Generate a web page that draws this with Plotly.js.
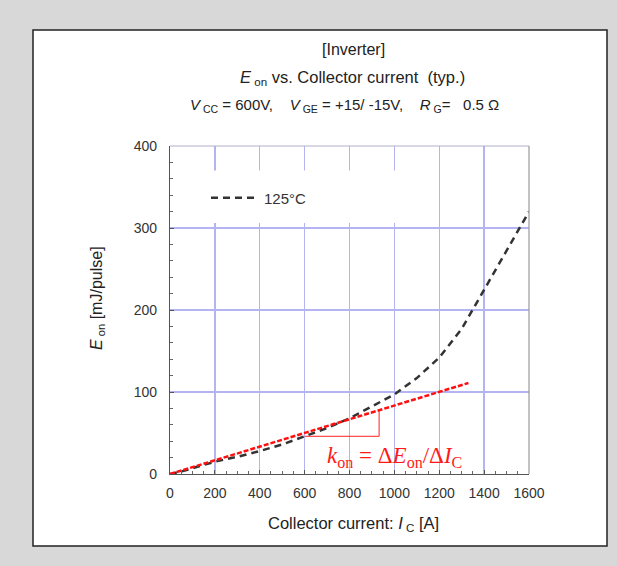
<!DOCTYPE html>
<html>
<head>
<meta charset="utf-8">
<script src="https://cdn.plot.ly/plotly-3.0.1.min.js"></script>
<style>html,body{margin:0;padding:0;background:#d8d8d8;}</style>
</head>
<body>
<div id="chart" style="width:617px;height:566px;"></div>
<script>
// Eon vs collector current at 125°C
const current = [0, 50, 100, 200, 300, 400, 500, 600, 700, 800, 900, 1000, 1100, 1200, 1300, 1400, 1500, 1600];
const eon =     [0, 3, 7, 15, 21, 28, 36, 46, 56, 68, 82, 97, 117, 142, 177, 225, 272, 320];
// tangent line k_on
const tangentX = [0, 1330];
const tangentY = [0, 111];
// slope triangle
const triX = [600, 932, 932];
const triY = [46, 46, 78];
const xTicks = [0, 200, 400, 600, 800, 1000, 1200, 1400, 1600];
const yTicks = [0, 100, 200, 300, 400];

const L = 170, R = 529, T = 146, B = 474;
const W = R - L, H = B - T;
const px = x => (x - L) / W;
const py = y => (B - y) / H;
const font = 'Liberation Sans, Arial, sans-serif';

const traces = [
  {x: current, y: eon, mode: 'lines', name: '125°C',
   line: {color: '#333', width: 2.5, dash: '7px,5px'}, showlegend: true},
  {x: tangentX, y: tangentY, mode: 'lines', showlegend: false,
   line: {color: '#ff1010', width: 2.5, dash: '5px,2px'}},
  {x: triX, y: triY, mode: 'lines', showlegend: false,
   line: {color: '#ff2020', width: 1}}
];

const axisCommon = {
  showgrid: true, gridcolor: '#b4b4f2', gridwidth: 1.3,
  zeroline: false, showline: true, linecolor: '#555', linewidth: 1.2,
  ticks: 'inside', ticklen: 4, tickcolor: '#555', tickwidth: 1,
  tickfont: {family: font, size: 14, color: '#333'}
};

const layout = {
  width: 617, height: 566,
  margin: {l: L, r: 617 - R, t: T, b: 566 - B},
  paper_bgcolor: '#d8d8d8', plot_bgcolor: '#ffffff',
  showlegend: true,
  legend: {x: px(206), y: py(198), xanchor: 'left', yanchor: 'middle',
           bgcolor: 'rgba(0,0,0,0)', font: {family: font, size: 15, color: '#333'},
           itemwidth: 48},
  xaxis: Object.assign({}, axisCommon, {
    range: [0, 1600], tickvals: xTicks, ticktext: xTicks.map(String),
    ticklabelstandoff: 6,
    minor: {dtick: 50, ticks: 'inside', ticklen: 3, tickcolor: '#666', showgrid: false}
  }),
  yaxis: Object.assign({}, axisCommon, {
    range: [0, 400], tickvals: yTicks, ticktext: yTicks.map(String),
    ticklabelstandoff: 9,
    minor: {dtick: 20, ticks: 'inside', ticklen: 3, tickcolor: '#666', showgrid: false}
  }),
  shapes: [
    {type: 'rect', xref: 'paper', yref: 'paper', layer: 'below',
     x0: px(33), x1: px(607), y0: py(30), y1: py(546),
     fillcolor: '#ffffff', line: {color: '#222', width: 1.5}},
    {type: 'rect', xref: 'x', yref: 'y', layer: 'between',
     x0: 20, x1: 1120, y0: 306, y1: 370,
     fillcolor: '#ffffff', line: {width: 0}},
    {type: 'line', xref: 'paper', yref: 'paper', layer: 'above',
     x0: 0, x1: 1, y0: 1, y1: 1, line: {color: '#b0b0cc', width: 1.2}},
    {type: 'line', xref: 'paper', yref: 'paper', layer: 'above',
     x0: 1, x1: 1, y0: 0, y1: 1, line: {color: '#999', width: 1.2}}
  ],
  annotations: [
    {text: '[Inverter]', xref: 'paper', yref: 'paper', x: px(353), y: py(50),
     xanchor: 'center', yanchor: 'middle',
     showarrow: false, font: {family: font, size: 16, color: '#222'}},
    {text: '<i>E</i><sub> on</sub> vs. Collector current  (typ.)', xref: 'paper', yref: 'paper',
     x: px(352), y: py(78), xanchor: 'center', yanchor: 'middle',
     showarrow: false, font: {family: font, size: 16.5, color: '#222'}},
    {text: '<i>V</i><sub> CC</sub> = 600V,    <i>V</i><sub> GE</sub> = +15/ -15V,    <i>R</i><sub> G</sub>=   0.5 Ω',
     xref: 'paper', yref: 'paper', x: px(344), y: py(105), xanchor: 'center', yanchor: 'middle',
     showarrow: false, font: {family: font, size: 15, color: '#222'}},
    {text: '<i>E</i><sub> on</sub> [mJ/pulse]', xref: 'paper', yref: 'paper',
     x: px(97), y: py(298), xanchor: 'center', yanchor: 'middle', textangle: -90, showarrow: false,
     font: {family: font, size: 16, color: '#222'}},
    {text: 'Collector current: <i>I</i><sub> C</sub> [A]', xref: 'paper', yref: 'paper',
     x: px(353), y: py(524), xanchor: 'center', yanchor: 'middle',
     showarrow: false, font: {family: font, size: 16.5, color: '#222'}},
    {text: '<i>k</i><sub>on</sub> = Δ<i>E</i><sub>on</sub>/Δ<i>I</i><sub>C</sub>', xref: 'x', yref: 'y',
     x: 1000, y: 21, xanchor: 'center', yanchor: 'middle', showarrow: false,
     font: {family: 'Liberation Serif, Times New Roman, serif', size: 23, color: '#ff1a1a'}}
  ]
};

Plotly.newPlot('chart', traces, layout, {displayModeBar: false, staticPlot: true});
</script>
</body>
</html>
